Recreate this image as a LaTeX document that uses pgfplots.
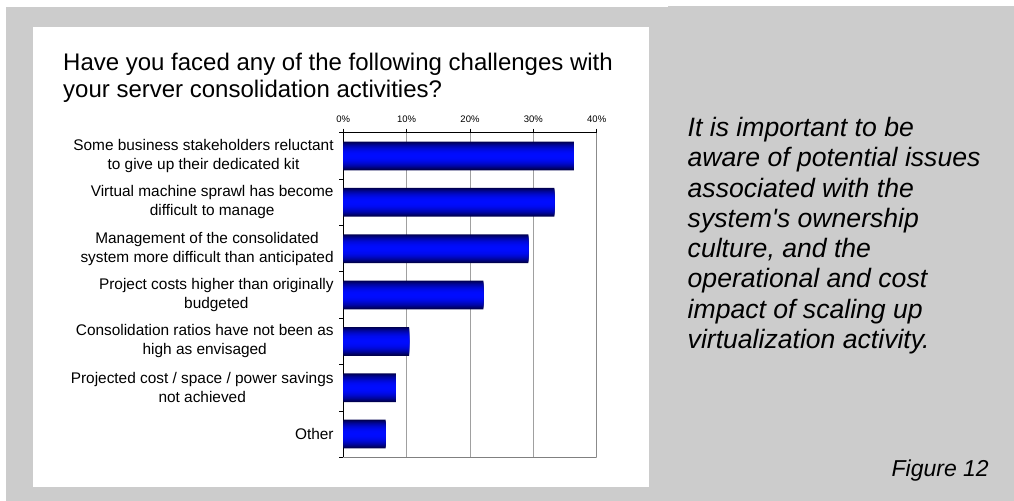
\documentclass[border=0pt]{standalone}
\usepackage{fontspec}
\setmainfont{Liberation Sans}
\usepackage{pgfplots}
\pgfplotsset{compat=1.18}
\definecolor{bg}{HTML}{CCCCCC}
\definecolor{bardark}{RGB}{0,0,80}
\definecolor{barlight}{RGB}{0,12,255}
\definecolor{gridc}{HTML}{A0A0A0}
\definecolor{borderc}{HTML}{808080}
\pgfplotstableread{
val cat
36.4 0
33.3 1
29.2 2
22.1 3
10.4 4
8.3 5
6.7 6
}\bardata
\begin{document}
\begin{tikzpicture}
\useasboundingbox (0,0) rectangle (1014bp,-501bp);
\fill[white] (0,0) rectangle (1014bp,-501bp);
\fill[bg] (6bp,-7bp) rectangle (1014bp,-501bp);
\fill[bg] (668bp,-6bp) rectangle (1014bp,-7bp);
\fill[white] (33bp,-27bp) rectangle (649bp,-487bp);
\tikzset{ttl/.style={anchor=base west, inner sep=0pt, font=\fontsize{24bp}{27.6bp}\selectfont},
         side/.style={anchor=base west, inner sep=0pt, font=\fontsize{26.6bp}{30.3bp}\selectfont\itshape}}
\node[ttl] at (63bp,-70.5bp) {Have you faced any of the following challenges with};
\node[ttl] at (63bp,-97.5bp) {your server consolidation activities?};
\node[side] at (687.5bp,-136.4bp) {It is important to be};
\node[side] at (687.5bp,-166.7bp) {aware of potential issues};
\node[side] at (687.5bp,-197.0bp) {associated with the};
\node[side] at (687.5bp,-227.3bp) {system\textquotesingle s ownership};
\node[side] at (687.5bp,-257.6bp) {culture, and the};
\node[side] at (687.5bp,-287.9bp) {operational and cost};
\node[side] at (687.5bp,-318.2bp) {impact of scaling up};
\node[side] at (687.5bp,-348.5bp) {virtualization activity.};
\node[anchor=base east, inner sep=0pt, font=\fontsize{23bp}{26bp}\selectfont\itshape] at (989bp,-476.7bp) {Figure 12};
\begin{axis}[
  at={(343.3bp,-457.3bp)}, anchor=south west,
  scale only axis, width=253.4bp, height=324.6bp,
  xmin=0, xmax=40, ymin=-0.5, ymax=6.5, y dir=reverse,
  axis x line*=top, axis y line*=left,
  axis line style={black, line width=0.9bp},
  xtick={0,10,20,30,40},
  xticklabels={0\%,10\%,20\%,30\%,40\%},
  xticklabel style={font=\fontsize{9.5bp}{11bp}\selectfont, inner sep=0pt, yshift=5.5bp},
  tick align=outside, major tick length=4bp,
  tick style={black, line width=0.8bp},
  xmajorgrids, major grid style={draw=gridc, line width=0.9bp},
  ytick={-0.5,0.5,...,6.5}, yticklabel={\mbox{}},
  extra y ticks={0,1,2,3,4,5,6},
  extra y tick labels={
    {Some business stakeholders reluctant\\to give up their dedicated kit},
    {Virtual machine sprawl has become\\difficult to manage},
    {Management of the consolidated\\system more difficult than anticipated},
    {Project costs higher than originally\\budgeted},
    {Consolidation ratios have not been as\\high as envisaged},
    {Projected cost / space / power savings\\not achieved},
    {Other}},
  extra y tick style={major tick length=0pt,
    yticklabel style={font=\fontsize{15.4bp}{19bp}\selectfont, align=center, inner sep=0pt, xshift=-9.5bp}},
]
\pgfplotsinvokeforeach{0,...,13}{
  \addplot[xbar, bar width={0.62*(14-#1)/14}, draw=none,
    fill={barlight!\the\numexpr 100-(13-#1)*(13-#1)*100/169\relax!bardark}]
    table[x=val, y=cat] {\bardata};
}
\draw[borderc, line width=1.2bp] (axis cs:40,-0.5) -- (axis cs:40,6.5);
\draw[borderc, line width=1.3bp] (axis cs:0,6.5) -- (axis cs:40,6.5);
\end{axis}
\end{tikzpicture}
\end{document}
